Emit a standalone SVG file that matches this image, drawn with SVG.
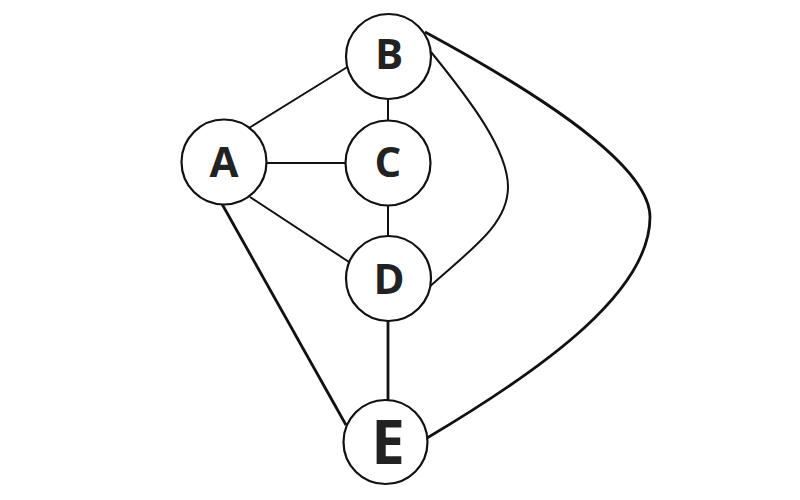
<svg xmlns="http://www.w3.org/2000/svg" width="800" height="500" viewBox="0 0 800 500">
<style>
.n{fill:#fff;stroke:#111;stroke-width:2.2}
.t{font-family:"Open Sans","DejaVu Sans",sans-serif;font-weight:bold;fill:#222;text-anchor:middle}
.e{fill:none;stroke:#111;stroke-width:2}
.k{stroke-width:2.8}
</style>
<rect width="800" height="500" fill="#fff"/>
<g id="edges">
<line class="e" x1="249" y1="128" x2="349" y2="66"/>
<line class="e" x1="266" y1="163" x2="346" y2="163"/>
<line class="e" x1="250" y1="197" x2="349" y2="262"/>
<line class="e k" x1="222" y1="204" x2="346" y2="425"/>
<line class="e" x1="388" y1="99" x2="388" y2="121"/>
<line class="e" x1="388" y1="205" x2="388" y2="237"/>
<line class="e k" x1="388" y1="321" x2="388" y2="400"/>
<path class="e" d="M431,52 C470,100 508,150 508,187 C508,225 470,250 428,288"/>
<path class="e k" d="M425,32 C560,105 650,170 650,217 C650,290 550,365 427,438"/>
</g>
<g id="B"><circle class="n" cx="388.5" cy="56.5" r="42.5"/><text class="t" x="389" y="69" font-size="42">B</text></g>
<g id="A"><circle class="n" cx="224" cy="162" r="42.5"/><text class="t" x="224" y="177" font-size="42">A</text></g>
<g id="C"><circle class="n" cx="388" cy="163" r="42.5"/><text class="t" x="388" y="177" font-size="42">C</text></g>
<g id="D"><circle class="n" cx="388.5" cy="278.5" r="42.5"/><text class="t" x="389" y="294" font-size="42">D</text></g>
<g id="E"><circle class="n" cx="385.5" cy="442" r="42"/><text class="t" x="388" y="464" font-size="60">E</text></g>
</svg>
